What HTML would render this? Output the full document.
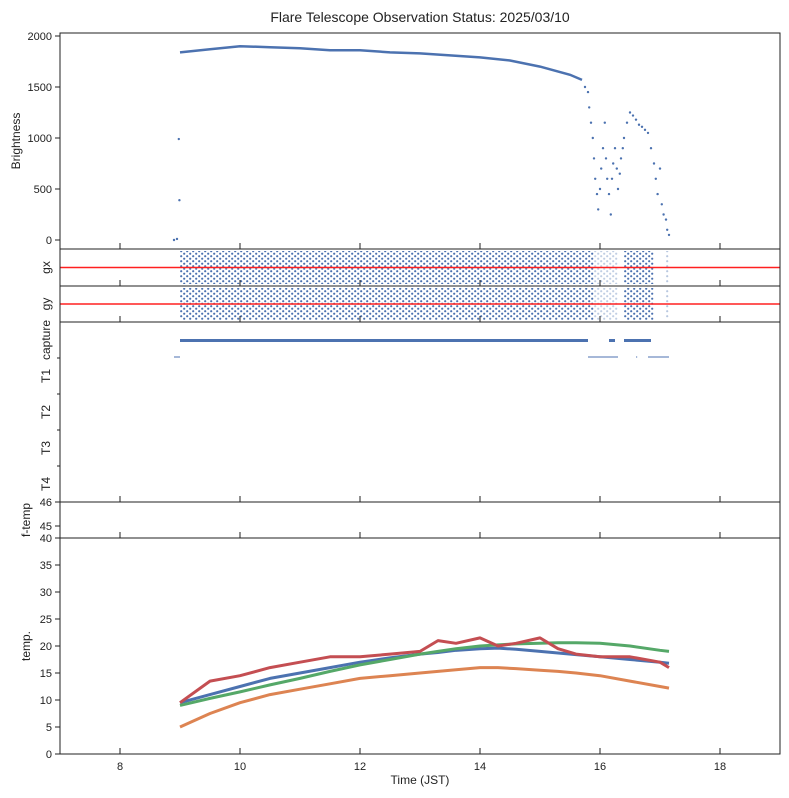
<!DOCTYPE html>
<html><head><meta charset="utf-8">
<style>
body{margin:0;background:#fff;}
svg{display:block;font-family:"Liberation Sans",sans-serif;}
</style></head>
<body>
<svg id="fig" width="789" height="798" xmlns="http://www.w3.org/2000/svg">
<text x="420" y="22" text-anchor="middle" font-size="14" fill="#222">Flare Telescope Observation Status: 2025/03/10</text>
</svg>
<script>
// ---- data ----
const xTicks = [8, 10, 12, 14, 16, 18];
const brightTicks = [0, 500, 1000, 1500, 2000];
const brightTime = [9.0,9.5,10.0,10.5,11.0,11.5,12.0,12.5,13.0,13.5,14.0,14.5,15.0,15.5,15.7];
const brightVal  = [1840,1870,1900,1890,1880,1860,1860,1840,1830,1810,1790,1760,1700,1620,1570];
const scatTime = [8.9,8.95,8.98,8.99,15.75,15.8,15.82,15.85,15.88,15.9,15.92,15.95,15.97,16.0,16.02,16.05,16.08,16.1,16.12,16.15,16.18,16.2,16.22,16.25,16.28,16.3,16.33,16.35,16.38,16.4,16.45,16.5,16.55,16.6,16.65,16.7,16.75,16.8,16.85,16.9,16.93,16.96,17.0,17.03,17.06,17.1,17.12,17.15];
const scatVal  = [0,10,990,390,1500,1450,1300,1150,1000,800,600,450,300,500,700,900,1150,800,600,450,250,600,750,900,700,500,650,800,900,1000,1150,1250,1220,1180,1130,1110,1080,1050,900,750,600,450,700,350,250,200,100,50];
const guideStart = [9.0, 15.9, 16.4, 17.1];
const guideEnd   = [15.9, 16.3, 16.9, 17.15];
const guideDense = [1, 0.35, 1, 0.4];
const captureStart = [9.0, 16.15, 16.4];
const captureEnd   = [15.8, 16.25, 16.85];
const t1Start = [8.9, 15.8, 16.6, 16.8];
const t1End   = [9.0, 16.3, 16.62, 17.15];
const tempTicks = [0,5,10,15,20,25,30,35];
const tempTime = [9.0,9.5,10.0,10.5,11.0,11.5,12.0,12.5,13.0,13.3,13.6,14.0,14.3,14.6,15.0,15.3,15.6,16.0,16.5,17.0,17.15];
const temp1 = [9.5,11,12.5,14,15,16,17,17.8,18.5,18.8,19.2,19.5,19.6,19.4,19,18.7,18.4,18,17.5,17,16.8];
const temp2 = [5,7.5,9.5,11,12,13,14,14.5,15,15.3,15.6,16,16,15.8,15.5,15.3,15,14.5,13.5,12.5,12.2];
const temp3 = [9,10.3,11.5,12.8,14,15.3,16.5,17.5,18.5,19,19.5,20,20.2,20.4,20.5,20.6,20.6,20.5,20,19.2,19];
const temp4 = [9.5,13.5,14.5,16,17,18,18,18.5,19,21,20.5,21.5,20,20.5,21.5,19.5,18.5,18,18,17,16];
const tempColors = ['#4c72b0','#dd8452','#55a868','#c44e52'];

// ---- scales ----
const L=60,R=780;
const X = t => L + (t-7)*(R-L)/12;
const NS='http://www.w3.org/2000/svg';
const svg=document.getElementById('fig');
function mk(tag,attrs,parent){const e=document.createElementNS(NS,tag);for(const k in attrs)e.setAttribute(k,attrs[k]);(parent||svg).appendChild(e);return e;}
function txt(x,y,s,anchor,size,rot){const e=mk('text',{x:x,y:y,'text-anchor':anchor||'end','font-size':size||11,fill:'#222'});if(rot)e.setAttribute('transform','rotate(-90 '+x+' '+y+')');e.textContent=s;return e;}

const panels=[['brightness-panel',33,249],['gx-panel',249,286],['gy-panel',286,322],['capture-panel',322,502],['ftemp-panel',502,538],['temp-panel',538,754]];
function frame(name,top,bot){
  const r=mk('rect',{x:L,y:top,width:R-L,height:bot-top,fill:'none',stroke:'#222','stroke-width':1});
  
  
  xTicks.forEach(t=>{const l=mk('line',{x1:X(t),x2:X(t),y1:bot,y2:bot-6,stroke:'#222'});
    
    });
}

// brightness
const YB=v=>240-v*0.102;
brightTicks.forEach(v=>{mk('line',{x1:L-5,x2:L,y1:YB(v),y2:YB(v),stroke:'#222'});
  const t=txt(L-8,YB(v)+4,String(v));
  
  });
let pts=brightTime.map((t,i)=>X(t)+','+YB(brightVal[i])).join(' ');
const bl=mk('polyline',{points:pts,fill:'none',stroke:'#4c72b0','stroke-width':2.5});


scatTime.forEach((t,i)=>{const c=mk('circle',{cx:X(t),cy:YB(scatVal[i]),r:1.2,fill:'#4c72b0'});
  
  });
const yl=txt(20,141,'Brightness','middle',12,true);



// gx / gy
const pat=mk('pattern',{id:'dots',width:6,height:5,patternUnits:'userSpaceOnUse'},mk('defs',{}));
mk('circle',{cx:1.2,cy:1.2,r:1.1,fill:'#4c72b0'},pat);
mk('circle',{cx:4.2,cy:3.7,r:1.1,fill:'#4c72b0'},pat);
[['gx',249,286],['gy',286,322]].forEach(([n,top,bot])=>{
  guideStart.forEach((s,i)=>{const r=mk('rect',{x:X(s),y:top+2,width:X(guideEnd[i])-X(s),height:bot-top-4,fill:'url(#dots)',opacity:guideDense[i]});
    
    });
  const m=(top+bot)/2;
  const rl=mk('line',{x1:L,x2:R,y1:m,y2:m,stroke:'#ff2020','stroke-width':1.6});
  
  
  const t=txt(50,m,n,'middle',12,true);
  
  
});

// capture panel
['capture','T1','T2','T3','T4'].forEach((n,i)=>{const y=340+i*36;
  const t=txt(50,y,n,'middle',12,true);
  
  
  mk('line',{x1:L-3,x2:L,y1:y+18,y2:y+18,stroke:'#222'});});
captureStart.forEach((s,i)=>{const r=mk('rect',{x:X(s),y:339,width:X(captureEnd[i])-X(s),height:3,fill:'#4c72b0'});
  
  });
t1Start.forEach((s,i)=>{const r=mk('rect',{x:X(s),y:356.5,width:X(t1End[i])-X(s),height:1,fill:'#4c72b0'});
  
  });

// f-temp
[['46',502],['45',526],['40',538]].forEach(([s,y])=>{mk('line',{x1:L-5,x2:L,y1:y,y2:y,stroke:'#222'});
  const t=txt(L-8,y+4,s);
  
  });
const ft=txt(30,520,'f-temp','middle',12,true);



// temp
const YT=v=>754-v*5.4;
tempTicks.forEach(v=>{mk('line',{x1:L-5,x2:L,y1:YT(v),y2:YT(v),stroke:'#222'});
  const t=txt(L-8,YT(v)+4,String(v));
  
  });
[temp1,temp2,temp3,temp4].forEach((s,k)=>{
  const p=mk('polyline',{points:tempTime.map((t,i)=>X(t)+','+YT(s[i])).join(' '),fill:'none',stroke:tempColors[k],'stroke-width':3,'stroke-linejoin':'round'});
  
  });
const tt=txt(30,646,'temp.','middle',12,true);


xTicks.forEach(t=>{const e=txt(X(t),770,String(t),'middle',11);
  
  });
const xt=txt(420,784,'Time (JST)','middle',12);



panels.forEach(p=>frame(p[0],p[1],p[2]));
</script>
</body></html>
